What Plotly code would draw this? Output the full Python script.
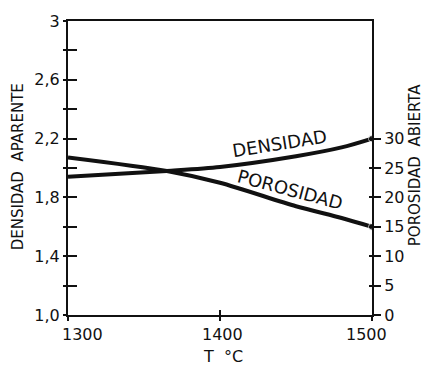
import plotly.graph_objects as go

# Temperature (°C) and measured properties
temp = [1300, 1365, 1400, 1450, 1480, 1500]
densidad = [1.94, 1.98, 2.007, 2.08, 2.14, 2.20]      # apparent density (left axis)
porosidad = [26.8, 24.5, 22.5, 18.5, 16.5, 15.0]      # open porosity % (right axis)

x_ticks = [1300, 1400, 1500]
x_labels = ["1300", "1400", "1500"]
d_ticks = [1.0, 1.2, 1.4, 1.6, 1.8, 2.0, 2.2, 2.4, 2.6, 2.8, 3.0]
d_labels = ["1,0", "", "1,4", "", "1,8", "", "2,2", "", "2,6", "", "3"]
p_ticks = [0, 5, 10, 15, 20, 25, 30]
p_labels = ["0", "5", "10", "15", "20", "25", "30"]

INK = "#111111"
FONT = "DejaVu Sans"

def end_dot(n):
    return [0] * (n - 1) + [7]

fig = go.Figure()
fig.add_trace(go.Scatter(
    x=temp, y=densidad, mode="lines+markers", xaxis="x", yaxis="y",
    line=dict(color=INK, width=4, shape="spline", smoothing=0.8),
    marker=dict(size=end_dot(len(temp)), color=INK), showlegend=False))
fig.add_trace(go.Scatter(
    x=temp, y=porosidad, mode="lines+markers", xaxis="x", yaxis="y2",
    line=dict(color=INK, width=4, shape="spline", smoothing=0.8),
    marker=dict(size=end_dot(len(temp)), color=INK), showlegend=False))

# empty traces so the inner-tick companion axes are drawn
for xa, ya in [("x2", "y"), ("x", "y3"), ("x", "y4")]:
    fig.add_trace(go.Scatter(x=[None], y=[None], xaxis=xa, yaxis=ya,
                             mode="lines", showlegend=False, hoverinfo="skip"))

axis_common = dict(showgrid=False, zeroline=False, ticks="outside",
                   tickcolor=INK, tickwidth=1.6, linecolor=INK)
inner = dict(showticklabels=False, showline=False, showgrid=False,
             zeroline=False, ticks="inside", tickcolor=INK, tickwidth=1.6)

fig.update_layout(
    width=425, height=368,
    margin=dict(l=68, r=53, t=14, b=53),
    paper_bgcolor="white", plot_bgcolor="white",
    font=dict(family=FONT, size=16, color=INK),
    xaxis=dict(range=[1300, 1500], tickvals=x_ticks, showticklabels=False,
               ticklen=4, showline=True, linewidth=2, mirror=True,
               anchor="y", **axis_common),
    xaxis2=dict(range=[1300, 1500], overlaying="x", anchor="y",
                tickvals=x_ticks, ticklen=5, **inner),
    yaxis=dict(range=[1, 3], tickvals=d_ticks, ticktext=d_labels,
               ticklen=3, showline=True, linewidth=2.2, anchor="x",
               tickfont=dict(size=16), ticklabelstandoff=0, **axis_common),
    yaxis3=dict(range=[1, 3], overlaying="y", anchor="x", side="left",
                tickvals=d_ticks, ticklen=9, **inner),
    yaxis2=dict(range=[0, 50], overlaying="y", side="right", anchor="x",
                tickvals=p_ticks, ticktext=p_labels, ticklen=7,
                showline=True, linewidth=2, tickfont=dict(size=16),
                ticklabelstandoff=0, **axis_common),
    yaxis4=dict(range=[0, 50], overlaying="y", side="right", anchor="x",
                tickvals=p_ticks, ticklen=3, **inner),
)

annotations = []
# x tick labels
x_shifts = [14, 2, -6]
for v, t, s in zip(x_ticks, x_labels, x_shifts):
    annotations.append(dict(x=v, y=0, xref="x", yref="paper", text=t,
                            showarrow=False, xanchor="center", yanchor="top",
                            xshift=s, yshift=-8, font=dict(size=16)))
# axis titles
annotations += [
    dict(x=0.51, y=-0.14, xref="paper", yref="paper", text="T  °C",
         showarrow=False, xanchor="center", yanchor="middle",
         font=dict(size=16)),
    dict(x=-0.165, y=0.505, xref="paper", yref="paper",
         text="DENSIDAD  APARENTE", textangle=-90, showarrow=False,
         xanchor="center", yanchor="middle", font=dict(size=15)),
    dict(x=1.14, y=0.508, xref="paper", yref="paper",
         text="POROSIDAD  ABIERTA", textangle=-90, showarrow=False,
         xanchor="center", yanchor="middle", font=dict(size=15)),
    # curve labels
    dict(x=1439, y=2.167, xref="x", yref="y", text="DENSIDAD",
         textangle=-9, showarrow=False, font=dict(size=18)),
    dict(x=1446, y=1.853, xref="x", yref="y", text="POROSIDAD",
         textangle=15, showarrow=False, font=dict(size=18)),
]
fig.update_layout(annotations=annotations)

fig.write_html("out.html")
